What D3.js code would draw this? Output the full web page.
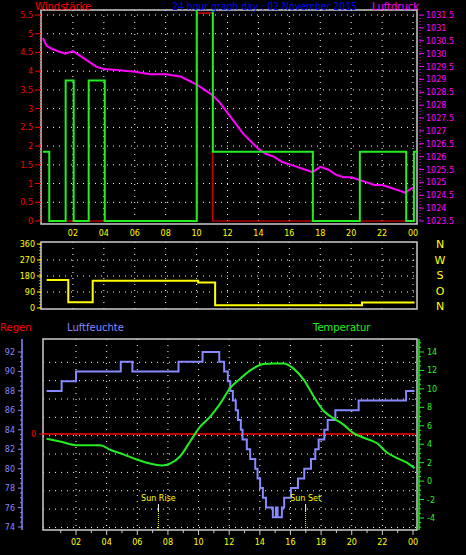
<!DOCTYPE html><html><head><meta charset="utf-8">
<script src="https://cdn.jsdelivr.net/npm/d3@7/dist/d3.min.js"></script>
<style>body{margin:0;background:#000}svg{display:block;font-family:"DejaVu Sans",sans-serif}</style></head><body>
<svg id="c" width="466" height="555"></svg>
<script>
const hourTicks=[2,4,6,8,10,12,14,16,18,20,22,24];
const hourLabels=["02","04","06","08","10","12","14","16","18","20","22","00"];
const windSteps=[[0.06,1.85],[0.47,0],[1.53,3.75],[2.05,0],[3.02,3.75],[4.06,0],[10.01,5.7],[11.05,1.85],[17.52,0],[20.56,1.85],[23.56,0],[24.06,1.85],[24.3,1.85]];
const gustSteps=[[0.47,0],[10.01,5.55],[11.05,0],[24.06,0]];
const pressureHours=[0.06,0.3,0.6,1,1.5,2,2.5,3,3.5,4,5,6,7,8,9,10,10.5,11,11.5,12,12.5,13,13.5,14,14.5,15,15.5,16,16.5,17,17.5,18,18.5,19,19.5,20,20.5,21,21.5,22,22.5,23,23.5,24];
const pressureVals=[1030.6,1030.3,1030.2,1030.1,1030.0,1030.1,1029.9,1029.7,1029.5,1029.4,1029.35,1029.3,1029.2,1029.2,1029.1,1028.8,1028.6,1028.4,1028.1,1027.7,1027.3,1026.9,1026.6,1026.3,1026.1,1026.0,1025.8,1025.7,1025.6,1025.5,1025.4,1025.6,1025.5,1025.3,1025.2,1025.2,1025.1,1025.0,1024.9,1024.9,1024.8,1024.7,1024.6,1024.8];
const windLeftTicks=[0,0.5,1,1.5,2,2.5,3,3.5,4,4.5,5,5.5];
const pressTicks=[1023.5,1024,1024.5,1025,1025.5,1026,1026.5,1027,1027.5,1028,1028.5,1029,1029.5,1030,1030.5,1031,1031.5];
const dirSteps=[[0.3,157],[1.7,32],[3.1,32],[3.28,153],[10.1,143],[11.2,15],[20.7,31],[24.1,31]];
const dirTicks=[0,90,180,270,360];
const compass=["N","W","S","O","N"];
const humSteps=[[0.08,88],[1.06,89],[2.0,90],[4.92,91],[5.68,90],[8.69,91],[10.26,92],[11.35,91],[11.67,90],[11.91,89],[12.07,88],[12.24,87],[12.43,86],[12.57,85],[12.76,84],[12.87,83],[13.15,82],[13.37,81],[13.7,80],[13.85,79],[14.02,78],[14.2,77],[14.4,76],[14.85,75],[15.05,76],[15.16,75],[15.44,76],[15.59,77],[16.03,78],[16.49,79],[16.9,80],[17.34,81],[17.62,82],[17.84,83],[18.21,84],[18.43,85],[18.93,86],[20.45,87],[23.55,88],[24.1,88]];
const tempHours=[0.08,0.95,2.04,3.57,4.22,5.09,5.96,6.84,7.6,8.14,8.8,9.45,10.1,10.76,11.41,12.07,12.72,13.37,14.24,14.9,15.55,16.2,16.86,17.51,18.17,18.82,19.48,20.12,20.78,21.65,22.3,22.95,23.6,24.1];
const tempVals=[4.6,4.3,3.9,3.9,3.4,2.9,2.35,1.9,1.7,1.9,2.7,4.3,5.9,7.0,8.4,10.1,11.1,12.0,12.7,12.75,12.75,12.2,11.0,9.2,7.6,6.8,6.1,5.2,4.7,4.1,3.1,2.5,2.0,1.4];
const humTicks=[74,76,78,80,82,84,86,88,90,92];
const tempTicks=[-4,-2,0,2,4,6,8,10,12,14];
const sunEvents=[["Sun Rise",7.38],["Sun Set",16.99]];

const svg=d3.select("#c");
const dot="1,5";
function txt(x,y,t,c,a,s){return svg.append("text").attr("x",x).attr("y",y).text(t).attr("fill",c).attr("font-size",s||9).attr("text-anchor",a||"start");}
function steps(arr){const o=[];arr.forEach((d,i)=>{if(i>0)o.push([d[0],arr[i-1][1]]);o.push(d);});return o;}

// ---------- top panel
const xT=d3.scaleLinear().domain([0,24]).range([42,413]);
const yW=d3.scaleLinear().domain([0,5.5]).range([221,15]);
const yP=d3.scaleLinear().domain([1023.5,1031.5]).range([221,15]);
const T={l:41,r:417,t:10,b:224};
svg.append("clipPath").attr("id","ct").append("rect").attr("x",T.l).attr("y",T.t).attr("width",T.r-T.l).attr("height",T.b-T.t);
hourTicks.forEach(h=>svg.append("line").attr("x1",xT(h)).attr("x2",xT(h)).attr("y1",T.t).attr("y2",T.b).attr("stroke","#fff").attr("stroke-dasharray",dot));
windLeftTicks.slice(1).forEach(v=>svg.append("line").attr("x1",T.l).attr("x2",T.r).attr("y1",yW(v)).attr("y2",yW(v)).attr("stroke","#fff").attr("stroke-dasharray",dot));
svg.append("rect").attr("x",T.l).attr("y",T.t).attr("width",T.r-T.l).attr("height",T.b-T.t).attr("fill","none").attr("stroke","#ccc").attr("stroke-width",1.5);
const g1=svg.append("g").attr("clip-path","url(#ct)");
g1.append("path").datum(steps(gustSteps)).attr("d",d3.line().x(d=>xT(d[0])).y(d=>yW(d[1]))).attr("fill","none").attr("stroke","#f00").attr("stroke-width",1.2);
g1.append("path").datum(pressureHours.map((h,i)=>[h,pressureVals[i]])).attr("d",d3.line().x(d=>xT(d[0])).y(d=>yP(d[1]))).attr("fill","none").attr("stroke","#f0f").attr("stroke-width",2);
g1.append("path").datum(steps(windSteps)).attr("d",d3.line().x(d=>xT(d[0])).y(d=>yW(d[1]))).attr("fill","none").attr("stroke","#2e2").attr("stroke-width",2);
windLeftTicks.forEach(v=>{svg.append("line").attr("x1",35).attr("x2",41).attr("y1",yW(v)).attr("y2",yW(v)).attr("stroke","#f00");txt(33,yW(v)+3,String(v),"#f00","end",8);});
svg.append("line").attr("x1",40).attr("x2",40).attr("y1",15).attr("y2",222).attr("stroke","#f00").attr("stroke-dasharray","1,2");
pressTicks.forEach(v=>{svg.append("line").attr("x1",419).attr("x2",424).attr("y1",yP(v)).attr("y2",yP(v)).attr("stroke","#f0f");txt(426,yP(v)+3,String(v),"#f0f","start",8);});
svg.append("line").attr("x1",420).attr("x2",420).attr("y1",15).attr("y2",222).attr("stroke","#f0f").attr("stroke-dasharray","1,2");
hourTicks.forEach((h,i)=>txt(xT(h),236,hourLabels[i],"#ff0","middle",8));
txt(35,10,"Windstärke","#f00","start",10);
txt(172,10,"24 hour graph day : 02 November 2015","#00f","start",10).attr("textLength",185).attr("lengthAdjust","spacingAndGlyphs");
txt(372,10,"Luftdruck","#f0f","start",10);

// ---------- middle panel
const M={l:41,r:417,t:242,b:309};
const yD=d3.scaleLinear().domain([0,360]).range([308,244]);
hourTicks.forEach(h=>svg.append("line").attr("x1",xT(h)).attr("x2",xT(h)).attr("y1",M.t).attr("y2",M.b).attr("stroke","#fff").attr("stroke-dasharray",dot));
dirTicks.slice(1,4).forEach(v=>svg.append("line").attr("x1",M.l).attr("x2",M.r).attr("y1",yD(v)).attr("y2",yD(v)).attr("stroke","#fff").attr("stroke-dasharray",dot));
svg.append("rect").attr("x",M.l).attr("y",M.t).attr("width",M.r-M.l).attr("height",M.b-M.t).attr("fill","none").attr("stroke","#ccc").attr("stroke-width",1.5);
svg.append("path").datum(steps(dirSteps)).attr("d",d3.line().x(d=>xT(d[0])).y(d=>yD(d[1]))).attr("fill","none").attr("stroke","#ff0").attr("stroke-width",2);
svg.append("line").attr("x1",40).attr("x2",40).attr("y1",244).attr("y2",309).attr("stroke","#ff0").attr("stroke-dasharray","1,2");
dirTicks.forEach(v=>{svg.append("line").attr("x1",37).attr("x2",41).attr("y1",yD(v)).attr("y2",yD(v)).attr("stroke","#ff0");txt(35,yD(v)+3,String(v),"#ff0","end",8);});
compass.forEach((c,i)=>txt(440,248+i*15.5,c,"#ff0","middle",11));

// ---------- bottom panel
const B={l:43,r:417,t:339,b:530};
const xB=d3.scaleLinear().domain([0,24]).range([45.4,413]);
const yH=d3.scaleLinear().domain([74,92]).range([527,352]);
const yTm=d3.scaleLinear().domain([-4,14]).range([518,352]);
hourTicks.forEach(h=>svg.append("line").attr("x1",xB(h)).attr("x2",xB(h)).attr("y1",B.t).attr("y2",B.b).attr("stroke","#fff").attr("stroke-dasharray",dot));
d3.range(10).forEach(k=>svg.append("line").attr("x1",B.l).attr("x2",B.r).attr("y1",362.3+k*18.35).attr("y2",362.3+k*18.35).attr("stroke","#fff").attr("stroke-dasharray",dot));
svg.append("rect").attr("x",B.l).attr("y",B.t).attr("width",B.r-B.l).attr("height",B.b-B.t).attr("fill","none").attr("stroke","#ccc").attr("stroke-width",1.5);
d3.range(1,25).forEach(h=>svg.append("line").attr("x1",xB(h)).attr("x2",xB(h)).attr("y1",B.b).attr("y2",B.b+(h%2?3:5)).attr("stroke","#ccc"));
svg.append("line").attr("x1",B.l).attr("x2",B.r-2).attr("y1",434).attr("y2",434).attr("stroke","#f00").attr("stroke-width",1.5);
svg.append("path").datum(steps(humSteps)).attr("d",d3.line().x(d=>xB(d[0])).y(d=>yH(d[1]))).attr("fill","none").attr("stroke","#88f").attr("stroke-width",2);
svg.append("path").datum(tempHours.map((h,i)=>[h,tempVals[i]])).attr("d",d3.line().curve(d3.curveMonotoneX).x(d=>xB(d[0])).y(d=>yTm(d[1]))).attr("fill","none").attr("stroke","#2e2").attr("stroke-width",2);
svg.append("line").attr("x1",22).attr("x2",22).attr("y1",339).attr("y2",530).attr("stroke","#88f").attr("stroke-width",1.5);
d3.range(74,92.5,0.5).forEach(v=>svg.append("line").attr("x1",v%2?20:18).attr("x2",22).attr("y1",yH(v)).attr("y2",yH(v)).attr("stroke","#88f"));
humTicks.forEach(v=>txt(15,yH(v)+3,String(v),"#88f","end",8));
svg.append("line").attr("x1",419).attr("x2",419).attr("y1",339).attr("y2",530).attr("stroke","#2e2").attr("stroke-width",1.5);
d3.range(-5,15.5,0.5).forEach(v=>svg.append("line").attr("x1",419).attr("x2",v%2===0?424:421).attr("y1",yTm(v)).attr("y2",yTm(v)).attr("stroke","#2e2"));
tempTicks.forEach(v=>txt(427,yTm(v)+3,String(v),"#2e2","start",8));
svg.append("line").attr("x1",39).attr("x2",43).attr("y1",434).attr("y2",434).attr("stroke","#f00");
txt(36,437,"0","#f00","end",8);
hourTicks.forEach((h,i)=>txt(xB(h),545,hourLabels[i],"#ff0","middle",8));
sunEvents.forEach(([n,h])=>{txt(xB(h),501,n,"#ff0","middle",8);
 svg.append("line").attr("x1",xB(h)).attr("x2",xB(h)).attr("y1",504).attr("y2",511).attr("stroke","#fff");
 svg.append("line").attr("x1",xB(h)).attr("x2",xB(h)).attr("y1",511).attr("y2",530).attr("stroke","#ff0").attr("stroke-dasharray","1,1");});
txt(0,331,"Regen","#f00","start",10);
txt(67,331,"Luftfeuchte","#88f","start",10);
txt(313,331,"Temperatur","#2e2","start",10);
</script></body></html>
